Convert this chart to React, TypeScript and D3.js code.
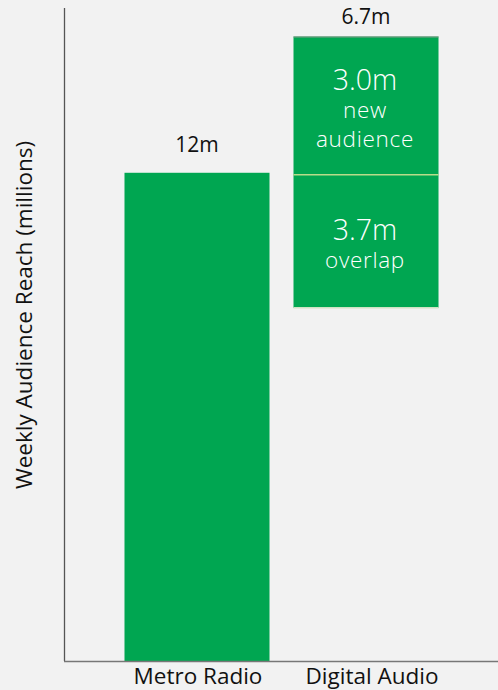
import React from "react";
import * as d3 from "d3";

const categories = ["Metro Radio", "Digital Audio"];
const metroValue = 12;
const metroLabel = "12m";
const digitalTotalLabel = "6.7m";
// floating segments of the Digital Audio bar (start / end on the value axis, as drawn)
const segmentNames = ["overlap", "new"];
const segmentStarts = [8.68, 11.95];
const segmentEnds = [11.95, 15.35];
const segmentValueLabels = ["3.7m", "3.0m"];
const segmentTextLines = [["overlap"], ["new", "audience"]];
const yMax = 16.05;
const yTitle = "Weekly Audience Reach (millions)";

const W = 498;
const H = 690;
const GREEN = "#00a651";
const FONT = "'Open Sans', 'Noto Sans', sans-serif";

export default function App() {
  const x = d3
    .scaleBand<string>()
    .domain(categories)
    .range([65, 498])
    .paddingInner(0.142)
    .paddingOuter(0.352);
  const y = d3.scaleLinear().domain([0, yMax]).range([661, 8]);
  const bw = x.bandwidth();
  const mx = x("Metro Radio")!;
  const dx = x("Digital Audio")!;

  return (
    <svg
      width={W}
      height={H}
      style={{ position: "absolute", left: 0, top: 0, background: "#f2f2f2" }}
      fontFamily={FONT}
    >
      <rect x={0} y={0} width={W} height={H} fill="#f2f2f2" />
      {/* Metro bar */}
      <rect x={mx} y={y(metroValue)} width={bw} height={y(0) - y(metroValue)} fill={GREEN} />
      <text x={mx + bw / 2} y={y(metroValue) - 21} textAnchor="middle" fontSize={21} fill="#111">
        {metroLabel}
      </text>

      {/* Digital segments */}
      {segmentNames.map((n, i) => {
        const y0 = y(segmentEnds[i]);
        const y1 = y(segmentStarts[i]);
        const cx = dx + bw / 2;
        const lines = segmentTextLines[i];
        const mid = (y0 + y1) / 2;
        const big = 28.5;
        const small = 22.5;
        const blockH = big + lines.length * 29;
        const top = mid - blockH / 2;
        return (
          <g key={n}>
            <rect x={dx} y={y0} width={bw} height={y1 - y0} fill={GREEN} />
            <text x={cx - 1} y={top + big - 1} textAnchor="middle" fontSize={big} fill="#fff" fontWeight={300}>
              {segmentValueLabels[i]}
            </text>
            {lines.map((l, j) => (
              <text
                key={l}
                x={cx - 1}
                y={top + big + 29 * (j + 1) - 2}
                textAnchor="middle"
                fontSize={small}
                fill="#fff"
                fontWeight={300}
                letterSpacing={0.7}
              >
                {l}
              </text>
            ))}
          </g>
        );
      })}
      {/* segment boundary lines */}
      <line x1={dx} x2={dx + bw} y1={y(segmentEnds[1]) + 0.5} y2={y(segmentEnds[1]) + 0.5} stroke="#8f9a8f" strokeWidth={1} />
      <line x1={dx} x2={dx + bw} y1={y(segmentStarts[1])} y2={y(segmentStarts[1])} stroke="#b8dc8a" strokeWidth={1.5} />
      <line x1={dx} x2={dx + bw} y1={y(segmentStarts[0])} y2={y(segmentStarts[0])} stroke="#cfe3c4" strokeWidth={1.5} />
      <text
        x={dx + bw / 2}
        y={y(segmentEnds[1]) - 12}
        textAnchor="middle"
        fontSize={21}
        fill="#111"
      >
        {digitalTotalLabel}
      </text>

      {/* axes */}
      <line x1={64.5} x2={64.5} y1={8} y2={661} stroke="#555" strokeWidth={1.3} />
      <line x1={64} x2={498} y1={661.5} y2={661.5} stroke="#777" strokeWidth={1.3} />

      {categories.map((c) => (
        <text
          key={c}
          x={x(c)! + bw / 2 + (c === "Digital Audio" ? 6 : 1)}
          y={684}
          textAnchor="middle"
          fontSize={22.5}
          fill="#111"
        >
          {c}
        </text>
      ))}

      <text
        transform={`translate(32,315) rotate(-90)`}
        textAnchor="middle"
        fontSize={22.5}
        fill="#111"
      >
        {yTitle}
      </text>
    </svg>
  );
}
